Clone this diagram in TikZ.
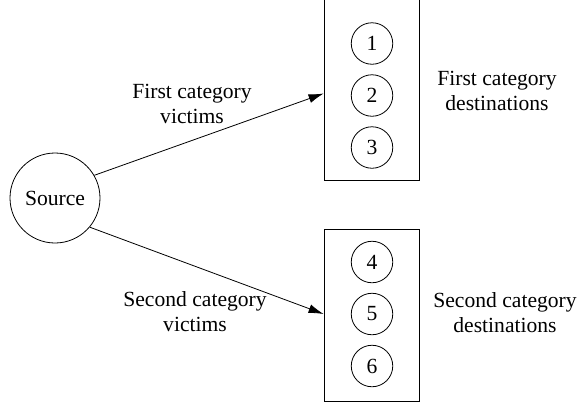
\documentclass[tikz,border=0pt]{standalone}
\usepackage{fontspec}
\setmainfont{Liberation Serif}
\usetikzlibrary{arrows.meta}
\begin{document}
\begin{tikzpicture}[x=1pt, y=-1pt, node distance=52pt, font=\fontsize{21.6}{25}\selectfont]
	\tikzset{n/.style={draw=black, circle, minimum width=41.5pt, inner sep=0pt, line width=0.8pt},
	f/.style={-{Latex[length=15pt, width=9pt]}, line width=0.8pt},
	g/.style={draw=black, minimum width=95pt, inner sep=0pt, line width=0.8pt},
	l/.style={align=center, inner sep=0pt}};
	\useasboundingbox (0,0) rectangle (581,402);

	\node[n, minimum width=90pt] (s) at (55,198) {Source};

	\node[g, minimum height=186pt] (p) at (371.5,87) {};
	\node[g, minimum height=172pt] (q) at (371.5,315) {};

	\node[n] (a) at (372,43.5) {1};
	\node[n, below of=a] (b) {2};
	\node[n, below of=b] (c) {3};
	\node[n] (d) at (372,262) {4};
	\node[n, below of=d] (e) {5};
	\node[n, below of=e] (h) {6};

	\node[l] (v1) at (192,104) {First category\\victims};
	\node[l] (v2) at (195,312) {Second category\\victims};
	\node[l] (t1) at (497,90.5) {First category\\destinations};
	\node[l] (t2) at (505,313) {Second category\\destinations};

	\draw[f] (s.30) to ([yshift=2pt]b.center -| p.west);
	\draw[f] (s.-40) to (e -| q.west);
\end{tikzpicture}
\end{document}
